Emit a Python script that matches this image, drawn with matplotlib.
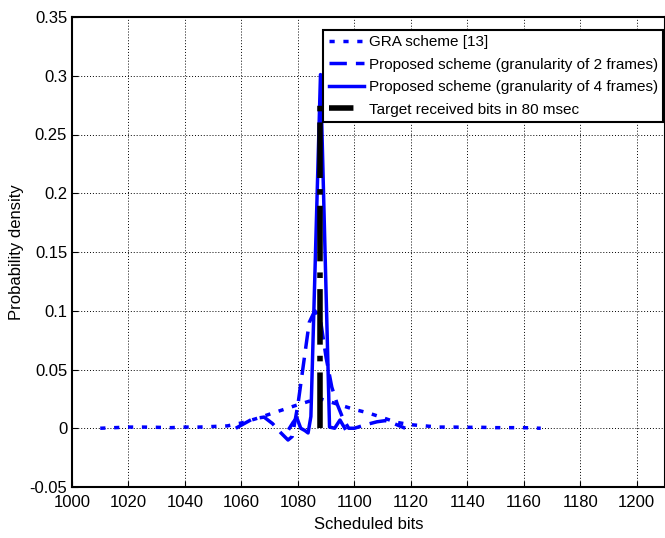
import matplotlib
matplotlib.use("Agg")
import matplotlib.pyplot as plt
from matplotlib.lines import Line2D
import numpy as np

plt.rcParams["font.family"] = ["Liberation Sans", "DejaVu Sans"]

# Données
gra_x = [1010, 1015, 1020, 1025, 1030, 1035, 1040, 1045, 1050, 1055, 1060,
         1065, 1070, 1075, 1080, 1084, 1088, 1092, 1096, 1100, 1105, 1110,
         1115, 1120, 1125, 1130, 1135, 1140, 1145, 1150, 1155, 1160, 1166]
gra_y = [0.0, 0.0005, 0.001, 0.001, 0.0008, 0.0005, 0.001, 0.001, 0.0015,
         0.002, 0.0045, 0.008, 0.012, 0.016, 0.02, 0.023, 0.025, 0.022,
         0.019, 0.016, 0.013, 0.009, 0.005, 0.003, 0.002, 0.001, 0.001,
         0.0008, 0.0008, 0.0005, 0.0005, 0.0005, 0.0]

g2_x = [1058, 1061, 1064, 1068, 1071, 1074, 1076.5, 1078, 1080, 1082, 1084,
        1086, 1088, 1090, 1092, 1094, 1096, 1098, 1100, 1104, 1108, 1111,
        1114, 1118]
g2_y = [0.0, 0.004, 0.008, 0.0095, 0.004, -0.004, -0.01, -0.007, 0.02,
        0.055, 0.09, 0.1, 0.092, 0.06, 0.035, 0.02, 0.008, 0.0, 0.0, 0.003,
        0.0055, 0.0065, 0.004, 0.0]

g4_x = [1077, 1078.3, 1079.6, 1081, 1082.5, 1083.6, 1084.6, 1088, 1091.2,
        1093, 1094.9, 1096.6]
g4_y = [0.0, 0.005, 0.009, 0.0, -0.002, -0.004, 0.01, 0.301, 0.001, 0.0,
        0.007, 0.0]

target_x = [1088, 1088]
target_y = [0.0, 0.275]

labels = ["GRA scheme [13]",
          "Proposed scheme (granularity of 2 frames)",
          "Proposed scheme (granularity of 4 frames)",
          "Target received bits in 80 msec"]

x_ticks = list(range(1000, 1201, 20))
y_ticks = [-0.05, 0, 0.05, 0.1, 0.15, 0.2, 0.25, 0.3, 0.35]
y_tick_labels = ["-0.05", "0", "0.05", "0.1", "0.15", "0.2", "0.25", "0.3", "0.35"]

BLUE = "#0000ff"

fig = plt.figure(figsize=(6.65, 5.38), dpi=100)
ax = fig.add_axes([72 / 665, 51 / 538, 593 / 665, 470 / 538])

ax.plot(gra_x, gra_y, color=BLUE, lw=2.5, dashes=(1.5, 2.5))
ax.plot(g2_x, g2_y, color=BLUE, lw=2.5, dashes=(5, 2.6))
ax.plot(g4_x, g4_y, color=BLUE, lw=2.5)
ax.plot(target_x, target_y, color="black", lw=4, dashes=(10, 2, 1, 2))

ax.set_xlim(1000, 1210)
ax.set_ylim(-0.05, 0.35)
ax.set_xticks(x_ticks)
ax.set_yticks(y_ticks)
ax.set_yticklabels(y_tick_labels)
ax.tick_params(direction="in", labelsize=12, length=4, width=0.8)
ax.tick_params(axis="x", pad=6)
ax.grid(True, color="black", linestyle=(0, (1, 2)), linewidth=0.7)
for s in ax.spines.values():
    s.set_linewidth(1.5)

ax.set_xlabel("Scheduled bits", fontsize=12, labelpad=5)
ax.set_ylabel("Probability density", fontsize=12)

handles = [
    Line2D([], [], color=BLUE, lw=2.5, dashes=(1.5, 2.5)),
    Line2D([], [], color=BLUE, lw=2.5, dashes=(5, 2.6)),
    Line2D([], [], color=BLUE, lw=2.5),
    Line2D([], [], color="black", lw=4, dashes=(4.4, 2, 0.75, 2)),
]
leg = ax.legend(handles, labels, loc="upper right",
                bbox_to_anchor=(1 - 2 / 593, 1 - 13 / 470), borderaxespad=0,
                fontsize=11, fancybox=False, framealpha=1, edgecolor="black",
                handlelength=2.3, handletextpad=0.3, labelspacing=0.55,
                borderpad=0.35)
leg.get_frame().set_linewidth(1.5)

fig.savefig("out.png", dpi=100)
